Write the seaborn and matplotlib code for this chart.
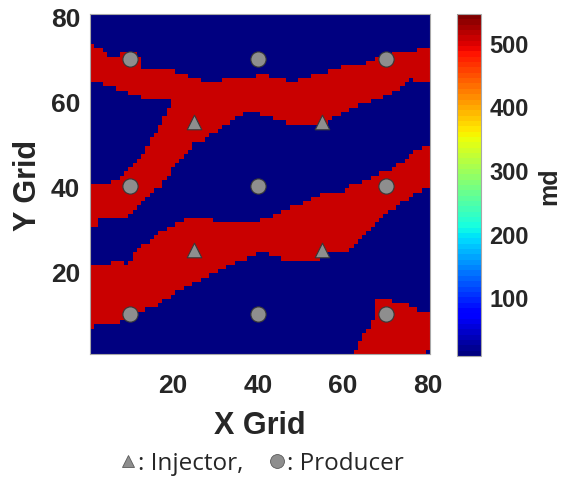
import numpy as np
import matplotlib
matplotlib.use("Agg")
import matplotlib.pyplot as plt
from matplotlib.lines import Line2D
import seaborn as sns

sns.set_style("white")
plt.rcParams['font.family'] = ['Liberation Sans', 'DejaVu Sans']

# -----------------------------------------------------
# data: 80 x 80 permeability map (md), two facies
# channel edges read per column (run-length: value, count)
# -----------------------------------------------------
K_LOW = 8      # background shale
K_HIGH = 510   # channel sand

# upper channel (incl. merged branch for cols 20-80)
a_top = np.repeat([73, 72, 71, 70, 71, 70, 67, 66, 65, 64, 65, 66, 65, 64, 65, 66, 67, 68, 69, 70, 71, 72],
                  [1, 2, 1, 3, 4, 1, 8, 3, 3, 5, 8, 3, 4, 3, 3, 4, 3, 6, 2, 4, 6, 3])
a_bot = np.repeat([65, 64, 63, 62, 61, 45, 46, 47, 48, 49, 51, 52, 53, 54, 55, 56, 57, 58, 57, 56, 55,
                   56, 57, 58, 59, 60, 61, 62, 63, 64, 65, 66, 65],
                  [3, 3, 3, 3, 7, 1, 1, 1, 1, 1, 3, 1, 2, 1, 2, 1, 2, 4, 3, 3, 10,
                   1, 2, 2, 2, 3, 3, 2, 2, 1, 1, 1, 4])

# branch going down-left (cols 1-19 only, 0 = none)
b_top = np.repeat([40, 41, 42, 43, 44, 45, 46, 47, 49, 51, 52, 54, 56, 58, 0],
                  [5, 2, 1, 1, 1, 1, 1, 1, 1, 1, 1, 1, 1, 1, 61])
b_bot = np.repeat([31, 33, 34, 35, 36, 37, 38, 39, 40, 42, 43, 0],
                  [2, 7, 1, 1, 1, 1, 1, 1, 2, 1, 1, 61])

# middle channel
c_top = np.repeat([21, 22, 21, 22, 24, 25, 26, 27, 28, 29, 30, 31, 32, 31, 32, 33, 34, 35, 36, 37, 38,
                   39, 40, 41, 42, 43, 44, 45, 46, 47, 48, 49],
                  [5, 3, 1, 1, 1, 1, 2, 1, 1, 2, 2, 2, 7, 11, 3, 2, 2, 3, 2, 2, 6,
                   1, 3, 2, 2, 3, 1, 2, 1, 1, 2, 2])
c_bot = np.repeat([7, 8, 9, 10, 11, 12, 13, 14, 15, 16, 17, 18, 19, 20, 21, 22, 23, 24, 25, 24, 23,
                   24, 25, 26, 27, 28, 29, 30, 31, 32, 33, 34, 35, 36, 37, 38, 39, 40],
                  [1, 6, 2, 1, 3, 3, 1, 2, 1, 2, 2, 2, 2, 2, 2, 2, 3, 2, 3, 3, 9,
                   1, 6, 1, 1, 1, 1, 1, 1, 1, 1, 1, 2, 1, 2, 1, 2, 2])

# bottom-right lobe
d_top = np.repeat([0, 1, 3, 5, 6, 8, 13, 12, 11, 10], [62, 1, 1, 1, 1, 1, 4, 4, 2, 3])
d_bot = np.repeat([0, 1, 2], [62, 17, 1])

# wells
inj_x = [25, 55, 25, 55]
inj_y = [55, 55, 25, 25]
prod_x = [10, 40, 70, 10, 40, 70, 10, 40, 70]
prod_y = [70, 70, 70, 40, 40, 40, 10, 10, 10]

grid_ticks = [20, 40, 60, 80]
cbar_ticks = [100, 200, 300, 400, 500]

# -----------------------------------------------------
# build map
# -----------------------------------------------------
rows = np.arange(1, 81)[:, None]


def band(top, bot):
    return (rows >= bot) & (rows <= top)


sand = band(a_top, a_bot) | band(b_top, b_bot) | band(c_top, c_bot) | band(d_top, d_bot)
perm = np.where(sand, K_HIGH, K_LOW)

# -----------------------------------------------------
# plot
# -----------------------------------------------------
fig = plt.figure(figsize=(5.66, 4.85), dpi=100)
ax = fig.add_axes([0.159, 0.268, 0.601, 0.701])
cax = fig.add_axes([0.807, 0.264, 0.043, 0.705])

sns.heatmap(perm, ax=ax, cbar_ax=cax, cmap=plt.get_cmap('jet', 64), vmin=8, vmax=545,
            xticklabels=False, yticklabels=False)
ax.invert_yaxis()

gray = '#8e8e8e'
edge = '#383838'
ax.scatter(np.array(prod_x) - 0.5, np.array(prod_y) - 0.5, marker='o', s=120,
           c=gray, edgecolors=edge, linewidths=0.8, zorder=3)
ax.scatter(np.array(inj_x) - 0.5, np.array(inj_y) - 0.5, marker='^', s=110,
           c=gray, edgecolors=edge, linewidths=0.8, zorder=3)

ax.set_xticks(np.array(grid_ticks) - 0.5)
ax.set_xticklabels(grid_ticks)
ax.set_yticks(np.array(grid_ticks) - 0.5)
ax.set_yticklabels(grid_ticks)
ax.tick_params(axis='both', labelsize=19, direction='in', length=3, width=0.8, color='#333333',
               labelcolor='#262626', bottom=True, left=True, top=True, right=True, pad=7)
ax.tick_params(axis='x', pad=14)
for t in ax.get_xticklabels() + ax.get_yticklabels():
    t.set_fontweight('bold')
for s in ax.spines.values():
    s.set_visible(True)
    s.set_edgecolor('#a8a8a8')
    s.set_linewidth(0.8)

ax.set_xlabel('X Grid', fontsize=22, fontweight='bold', color='#262626', labelpad=9)
ax.set_ylabel('Y Grid', fontsize=22, fontweight='bold', color='#262626', labelpad=6)

cbar = ax.collections[0].colorbar
cbar.set_ticks(cbar_ticks)
cbar.ax.tick_params(labelsize=17, direction='in', length=3, width=0.8, color='#333333',
                    labelcolor='#262626', pad=6)
for t in cbar.ax.get_yticklabels():
    t.set_fontweight('bold')
cbar.outline.set_visible(True)
cbar.outline.set_edgecolor('#a8a8a8')
cbar.outline.set_linewidth(0.8)
cbar.set_label('md', fontsize=18, fontweight='bold', color='#262626', labelpad=6)

handles = [
    Line2D([], [], ls='none', marker='^', ms=8, mfc=gray, mec='#5a5a5a', mew=0.6),
    Line2D([], [], ls='none', marker='o', ms=10, mfc=gray, mec='#5a5a5a', mew=0.6),
]
fig.legend(handles, [': Injector,', ': Producer'], loc='center', bbox_to_anchor=(0.463, 0.043),
           ncol=2, frameon=False, handlelength=0.6, handletextpad=0.1, columnspacing=1.1,
           prop={'family': ['Open Sans', 'DejaVu Sans'], 'size': 17.5})

fig.savefig('out.png', dpi=100)
